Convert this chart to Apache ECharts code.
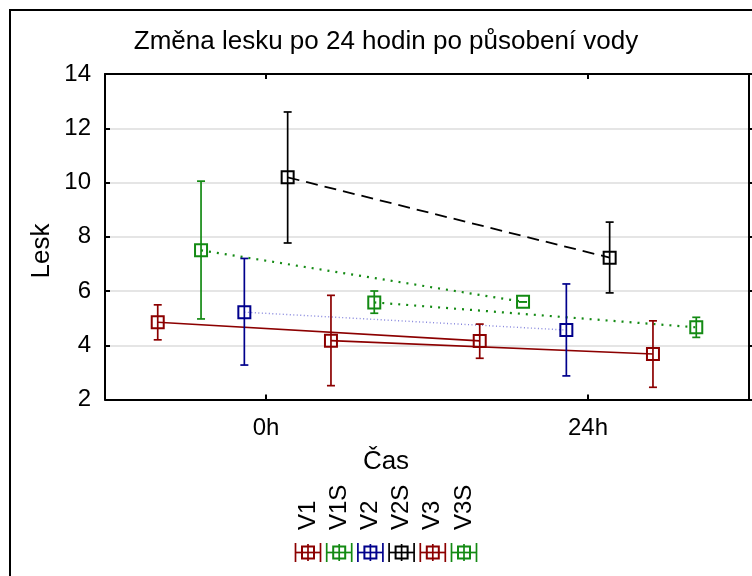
<!DOCTYPE html>
<html>
<head>
<meta charset="utf-8">
<title>Změna lesku po 24 hodin po působení vody</title>
<script src="https://cdn.jsdelivr.net/npm/echarts@6/dist/echarts.min.js"></script>
<style>
  html, body { margin: 0; padding: 0; background: #fff; }
  #chart { width: 752px; height: 576px; }
</style>
</head>
<body>
<div id="chart"></div>
<script>
// Measurement times (categories) and sample groups
const times = ['0h', '24h'];
const groups = ['V1', 'V1S', 'V2', 'V2S', 'V3', 'V3S'];

// Mean gloss and error-bar limits per group, at 0 h
const mean0h = [4.85, 7.50, 5.22, 10.19, 4.17, 5.58];
const low0h  = [4.20, 4.97, 3.27, 7.77, 2.51, 5.18];
const high0h = [5.49, 10.05, 7.20, 12.60, 5.84, 6.00];

// ... and at 24 h
const mean24h = [4.16, 5.60, 4.56, 7.23, 3.68, 4.66];
const low24h  = [3.52, 5.60, 2.87, 5.93, 2.45, 4.29];
const high24h = [4.78, 5.60, 6.26, 8.54, 4.90, 5.03];

// Gloss axis
const yMin = 2, yMax = 14, yStep = 2;

// Per-group drawing style
const styles = [
  { color: '#8c0000', line: 'solid', width: 1.6 },
  { color: '#138a13', line: [2, 6], width: 2.2 },
  { color: '#00008c', line: [1, 2.5], width: 1.4, lineColor: '#8484dc' },
  { color: '#000000', line: [12, 7], width: 1.8 },
  { color: '#8c0000', line: 'solid', width: 1.6 },
  { color: '#138a13', line: [2, 6], width: 2.2 }
];

const FONT = "'Liberation Sans', Arial, sans-serif";
const CX = 386;              // horizontal centre of title, axis name and key
const SLOT = 0.1345;         // spacing of groups inside one time band

// position of group i inside time band t on the hidden 0..2 axis
function xPos(t, i) { return t + 0.5 + (i - (groups.length - 1) / 2) * SLOT; }

const chart = echarts.init(document.getElementById('chart'), null, { renderer: 'canvas' });

const series = [];
groups.forEach((name, i) => {
  const st = styles[i];
  const pts = [
    [xPos(0, i), mean0h[i], low0h[i], high0h[i]],
    [xPos(1, i), mean24h[i], low24h[i], high24h[i]]
  ];
  // connecting line between the two means
  series.push({
    name: name,
    type: 'line',
    xAxisIndex: 2,
    yAxisIndex: 0,
    data: pts.map(p => [p[0], p[1]]),
    symbol: 'none',
    silent: true,
    z: 2,
    lineStyle: { color: st.lineColor || st.color, width: st.width, type: st.line }
  });
  // error bars and square markers
  series.push({
    name: name,
    type: 'custom',
    xAxisIndex: 2,
    yAxisIndex: 0,
    data: pts,
    encode: { x: 0, y: 1 },
    silent: true,
    z: 5,
    renderItem: function (params, api) {
      const x = api.value(0);
      const pm = api.coord([x, api.value(1)]);
      const pl = api.coord([x, api.value(2)]);
      const ph = api.coord([x, api.value(3)]);
      const c = st.color;
      const cap = 4, half = 6;
      const ls = { stroke: c, lineWidth: 1.7 };
      return {
        type: 'group',
        children: [
          { type: 'line', shape: { x1: pm[0], y1: ph[1], x2: pm[0], y2: pl[1] }, style: ls },
          { type: 'line', shape: { x1: pm[0] - cap, y1: ph[1], x2: pm[0] + cap, y2: ph[1] }, style: ls },
          { type: 'line', shape: { x1: pm[0] - cap, y1: pl[1], x2: pm[0] + cap, y2: pl[1] }, style: ls },
          { type: 'rect', shape: { x: pm[0] - half, y: pm[1] - half, width: half * 2, height: half * 2 },
            style: { fill: 'none', stroke: c, lineWidth: 2 } }
        ]
      };
    }
  });
});

// key below the chart: rotated group names with error-bar icons
const keyGraphics = [];
const keyStep = 31.2;
groups.forEach((name, i) => {
  const cx = CX + (i - (groups.length - 1) / 2) * keyStep;
  const c = styles[i].color;
  const cy = 552.5;
  const ls = { stroke: c, lineWidth: 1.7 };
  keyGraphics.push({
    type: 'text', x: cx, y: 530, rotation: Math.PI / 2,
    style: { text: name, font: '24px ' + FONT, fill: '#000', align: 'left', verticalAlign: 'middle' }
  });
  keyGraphics.push({
    type: 'group',
    children: [
      { type: 'line', shape: { x1: cx - 12.5, y1: cy, x2: cx + 12.5, y2: cy }, style: ls },
      { type: 'line', shape: { x1: cx - 12.5, y1: cy - 9.5, x2: cx - 12.5, y2: cy + 9.5 }, style: ls },
      { type: 'line', shape: { x1: cx + 12.5, y1: cy - 9.5, x2: cx + 12.5, y2: cy + 9.5 }, style: ls },
      { type: 'line', shape: { x1: cx, y1: cy - 8.5, x2: cx, y2: cy + 8.5 }, style: ls },
      { type: 'rect', shape: { x: cx - 6, y: cy - 6, width: 12, height: 12 },
        style: { fill: 'none', stroke: c, lineWidth: 2 } }
    ]
  });
});

const axisLine = { show: true, lineStyle: { color: '#000', width: 2 } };

chart.setOption({
  backgroundColor: '#ffffff',
  animation: false,
  textStyle: { fontFamily: FONT },
  grid: { left: 105, right: 3, top: 74, bottom: 176.5, containLabel: false },
  xAxis: [
    {
      type: 'category', position: 'bottom', data: times, boundaryGap: true,
      axisLine: axisLine,
      axisTick: { show: true, inside: true, alignWithLabel: true, length: 5, lineStyle: { color: '#000', width: 2 } },
      axisLabel: { fontSize: 24, color: '#000', margin: 17, fontFamily: FONT },
      splitLine: { show: false }
    },
    {
      type: 'category', position: 'top', data: times, boundaryGap: true,
      axisLine: axisLine,
      axisTick: { show: true, inside: true, alignWithLabel: true, length: 5, lineStyle: { color: '#000', width: 2 } },
      axisLabel: { show: false },
      splitLine: { show: false }
    },
    {
      type: 'value', min: 0, max: 2, show: false
    }
  ],
  yAxis: [
    {
      type: 'value', position: 'left', min: yMin, max: yMax, interval: yStep,
      axisLine: axisLine,
      axisTick: { show: true, inside: true, length: 5, lineStyle: { color: '#000', width: 2 } },
      axisLabel: { fontSize: 24, color: '#000', margin: 14, fontFamily: FONT },
      splitLine: { show: true, lineStyle: { color: '#dddddd', width: 1.5 } }
    },
    {
      type: 'value', position: 'right', min: yMin, max: yMax, interval: yStep,
      axisLine: axisLine,
      axisTick: { show: true, inside: false, length: 3, lineStyle: { color: '#000', width: 2 } },
      axisLabel: { show: false },
      splitLine: { show: false }
    }
  ],
  series: series,
  graphic: [
    {
      type: 'rect', z: -1, silent: true,
      shape: { x: 10, y: 10, width: 800, height: 700 },
      style: { fill: 'none', stroke: '#000', lineWidth: 2 }
    },
    {
      type: 'text', x: CX, y: 42,
      style: { text: 'Změna lesku po 24 hodin po působení vody', font: '26px ' + FONT, fill: '#000',
               align: 'center', verticalAlign: 'middle' }
    },
    {
      type: 'text', x: 42, y: 251, rotation: Math.PI / 2,
      style: { text: 'Lesk', font: '26px ' + FONT, fill: '#000', align: 'center', verticalAlign: 'middle' }
    },
    {
      type: 'text', x: CX, y: 462,
      style: { text: 'Čas', font: '26px ' + FONT, fill: '#000', align: 'center', verticalAlign: 'middle' }
    }
  ].concat(keyGraphics)
});
</script>
</body>
</html>
